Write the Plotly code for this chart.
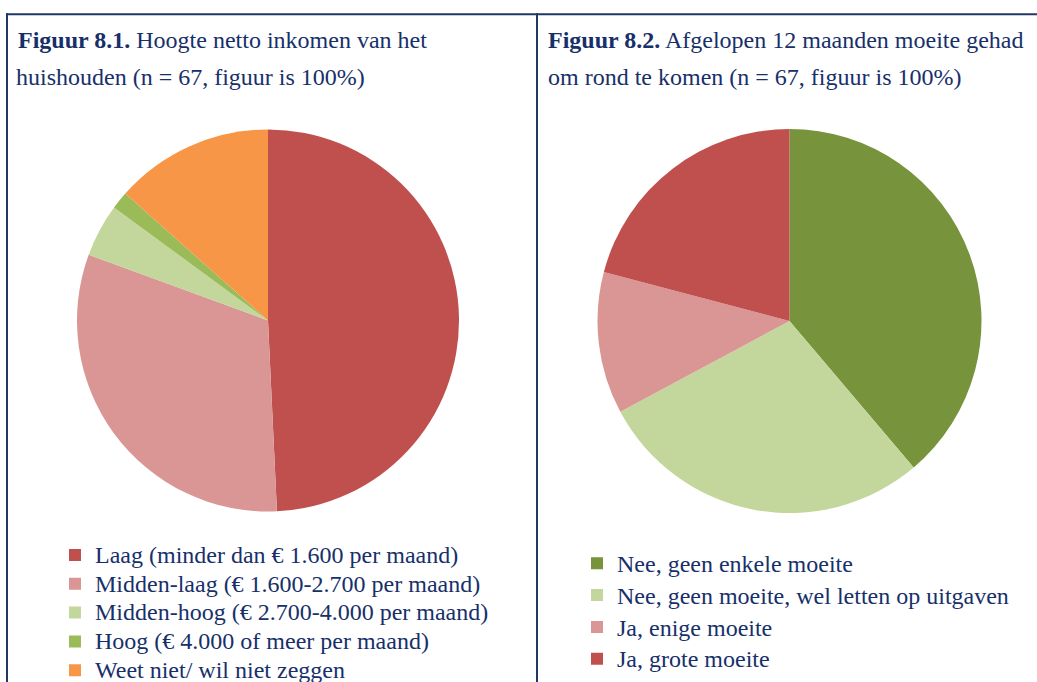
import plotly.graph_objects as go

# Figuur 8.1 - income categories (counts, n = 67)
income_labels = [
    "Laag (minder dan € 1.600 per maand)",
    "Midden-laag (€ 1.600-2.700 per maand)",
    "Midden-hoog (€ 2.700-4.000 per maand)",
    "Hoog (€ 4.000 of meer per maand)",
    "Weet niet/ wil niet zeggen",
]
income_values = [33, 21, 3, 1, 9]
income_colors = ["#C0504D", "#D99694", "#C3D69B", "#9BBB59", "#F79646"]

# Figuur 8.2 - difficulty making ends meet (counts, n = 67)
moeite_labels = [
    "Nee, geen enkele moeite",
    "Nee, geen moeite, wel letten op uitgaven",
    "Ja, enige moeite",
    "Ja, grote moeite",
]
moeite_values = [26, 19, 8, 14]
moeite_colors = ["#77933C", "#C3D69B", "#D99694", "#C0504D"]

title1_l1 = "<b>Figuur 8.1.</b> Hoogte netto inkomen van het"
title1_l2 = "huishouden (n = 67, figuur is 100%)"
title2_l1 = "<b>Figuur 8.2.</b> Afgelopen 12 maanden moeite gehad"
title2_l2 = "om rond te komen (n = 67, figuur is 100%)"

W, H = 1037, 682
NAVY = "#1F3864"
TEXT = "#17306A"
FONT = "Liberation Serif"


def px(x):
    return x / W


def py(y):
    return 1 - y / H


def big(lbl):
    return f'<span style="font-size:24px">{lbl}</span>'


fig = go.Figure()
fig.add_trace(go.Pie(
    labels=[big(l) for l in income_labels], values=income_values,
    marker=dict(colors=income_colors, line=dict(width=0)),
    sort=False, direction="clockwise", rotation=0,
    textinfo="none", hoverinfo="percent",
    domain=dict(x=[px(77), px(459)], y=[py(511.5), py(129.5)]),
    legend="legend",
))
fig.add_trace(go.Pie(
    labels=[big(l) for l in moeite_labels], values=moeite_values,
    marker=dict(colors=moeite_colors, line=dict(width=0)),
    sort=False, direction="clockwise", rotation=0,
    textinfo="none", hoverinfo="percent",
    domain=dict(x=[px(597.5), px(981.5)], y=[py(513), py(129)]),
    legend="legend2",
))

shapes = [
    dict(type="line", xref="paper", yref="paper", x0=px(6), x1=1.0, y0=py(14.3), y1=py(14.3),
         line=dict(color=NAVY, width=2)),
    dict(type="line", xref="paper", yref="paper", x0=px(7), x1=px(7), y0=py(13.3), y1=0,
         line=dict(color=NAVY, width=2)),
    dict(type="line", xref="paper", yref="paper", x0=px(537), x1=px(537), y0=py(13.3), y1=0,
         line=dict(color=NAVY, width=2)),
]

annotations = []
for text, x, y in [(title1_l1, 16, 40), (title1_l2, 14, 77),
                   (title2_l1, 546, 40), (title2_l2, 546, 77)]:
    annotations.append(dict(
        text=text, xref="paper", yref="paper", x=px(x), y=py(y),
        xanchor="left", yanchor="middle", showarrow=False,
        font=dict(family=FONT, size=24, color=TEXT),
    ))

fig.update_layout(
    width=W, height=H,
    margin=dict(l=0, r=0, t=0, b=0, autoexpand=False),
    paper_bgcolor="white", plot_bgcolor="white",
    shapes=shapes, annotations=annotations,
    showlegend=True,
    legend=dict(x=px(55), y=py(535.6), xanchor="left", yanchor="top",
                font=dict(family=FONT, size=19.85, color=TEXT),
                bgcolor="rgba(0,0,0,0)"),
    legend2=dict(x=px(577), y=py(542.4), xanchor="left", yanchor="top",
                 font=dict(family=FONT, size=22.15, color=TEXT),
                 bgcolor="rgba(0,0,0,0)"),
)

fig.write_html("out.html", config={"displayModeBar": False},
               post_script="document.body.style.margin='0';")
